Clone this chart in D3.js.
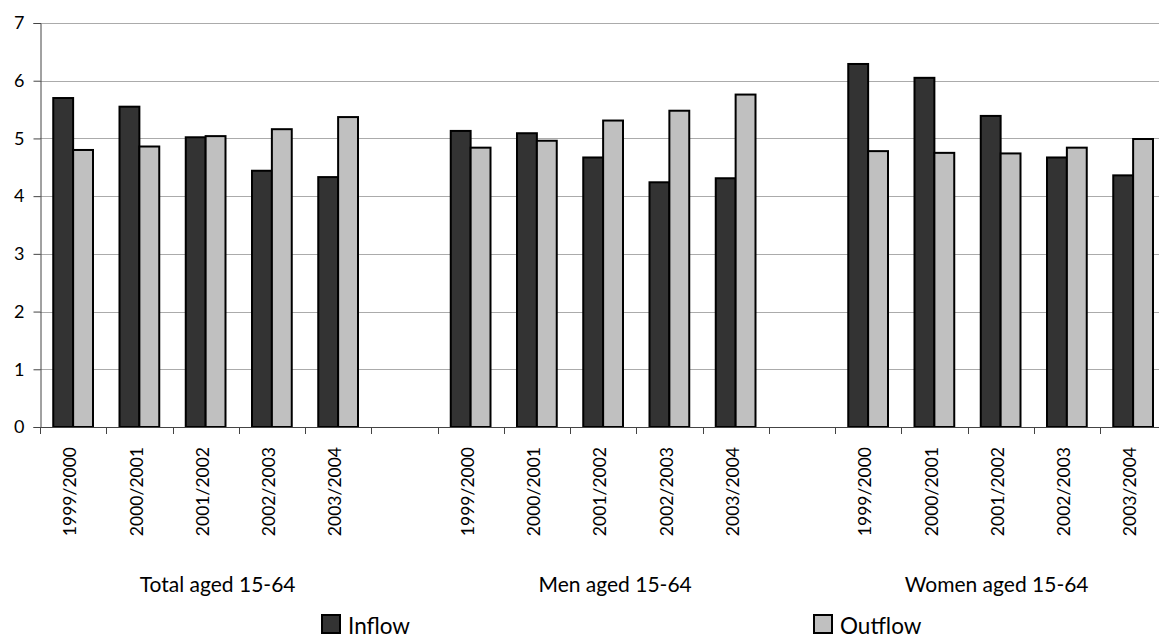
<!DOCTYPE html>
<html>
<head>
<meta charset="utf-8">
<script src="https://cdn.jsdelivr.net/npm/d3@7"></script>
<style>
  html, body { margin: 0; padding: 0; background: #fff; }
  svg { display: block; font-family: Lato, "DejaVu Sans", sans-serif; }
</style>
</head>
<body>
<svg id="chart" width="1159" height="640"></svg>
<script>
// ---- data ----
const groups = ["Total aged 15-64", "Men aged 15-64", "Women aged 15-64"];
const periods = ["1999/2000", "2000/2001", "2001/2002", "2002/2003", "2003/2004"];
const seriesNames = ["Inflow", "Outflow"];
const inflowTotal  = [5.70, 5.55, 5.02, 4.44, 4.33];
const outflowTotal = [4.80, 4.86, 5.04, 5.16, 5.37];
const inflowMen    = [5.13, 5.09, 4.67, 4.24, 4.31];
const outflowMen   = [4.84, 4.96, 5.31, 5.48, 5.76];
const inflowWomen  = [6.29, 6.05, 5.39, 4.67, 4.36];
const outflowWomen = [4.78, 4.75, 4.74, 4.84, 4.99];
const yTicks = [0, 1, 2, 3, 4, 5, 6, 7];

const inflows = [inflowTotal, inflowMen, inflowWomen];
const outflows = [outflowTotal, outflowMen, outflowWomen];

// slots: 5 periods per group, with an empty slot between groups
const slots = [];
groups.forEach((g, gi) => {
  periods.forEach((p, pi) => slots.push({ key: gi + "_" + pi, group: gi, period: p, pi: pi }));
  if (gi < groups.length - 1) slots.push({ key: "gap" + gi, group: gi, gap: true });
});
const rows = [];
slots.filter(s => !s.gap).forEach(s => {
  rows.push({ slot: s.key, series: "Inflow", value: inflows[s.group][s.pi] });
  rows.push({ slot: s.key, series: "Outflow", value: outflows[s.group][s.pi] });
});

// ---- layout ----
const svg = d3.select("#chart");
const plotLeft = 40, plotRight = 1166.25, plotTop = 23, plotBottom = 427;
const colors = { Inflow: "#333333", Outflow: "#c0c0c0" };

const x = d3.scaleBand().domain(slots.map(s => s.key)).range([plotLeft, plotRight]).padding(0);
const xs = d3.scaleBand().domain(seriesNames).range([x.bandwidth() * 0.2, x.bandwidth() * 0.8]).padding(0);
const y = d3.scaleLinear().domain([0, 7]).range([plotBottom, plotTop]);

// gridlines
svg.append("g").selectAll("line").data(yTicks.filter(t => t > 0)).join("line")
  .attr("x1", plotLeft).attr("x2", 1159)
  .attr("y1", d => Math.round(y(d)) + 0.5).attr("y2", d => Math.round(y(d)) + 0.5)
  .attr("stroke", "#ababab").attr("stroke-width", 1);

// bars
svg.append("g").selectAll("rect").data(rows).join("rect")
  .attr("x", d => x(d.slot) + xs(d.series))
  .attr("y", d => y(d.value))
  .attr("width", xs.bandwidth())
  .attr("height", d => y(0) - y(d.value))
  .attr("fill", d => colors[d.series])
  .attr("stroke", "#000").attr("stroke-width", 2);

// y axis
const yAxis = svg.append("g").attr("transform", `translate(${plotLeft + 0.5},0)`)
  .call(d3.axisLeft(y).tickValues(yTicks).tickFormat(d3.format("d")).tickSize(7).tickPadding(9));
yAxis.select(".domain").attr("stroke", "#444");
yAxis.selectAll(".tick line").attr("stroke", "#444");
yAxis.selectAll("text").attr("font-size", 18).attr("fill", "#000")
  .attr("font-family", "Lato, 'DejaVu Sans', sans-serif");

// x axis line and ticks at slot boundaries
svg.append("line").attr("x1", plotLeft).attr("x2", 1159)
  .attr("y1", plotBottom + 0.5).attr("y2", plotBottom + 0.5).attr("stroke", "#444");
const boundaries = slots.map(s => x(s.key)).concat([plotRight]);
svg.append("g").selectAll("line").data(boundaries).join("line")
  .attr("x1", d => Math.round(d) + 0.5).attr("x2", d => Math.round(d) + 0.5)
  .attr("y1", plotBottom).attr("y2", plotBottom + 7).attr("stroke", "#444");

// period labels (rotated)
svg.append("g").selectAll("text").data(slots.filter(s => !s.gap)).join("text")
  .attr("transform", d => `translate(${x(d.key) + x.bandwidth() / 2 - 3},447) rotate(-90)`)
  .attr("text-anchor", "end").attr("dy", "0.35em")
  .attr("font-size", 17.5).attr("fill", "#000")
  .text(d => d.period);

// group labels
const groupDx = [12, 12, -4];
svg.append("g").selectAll("text").data(groups).join("text")
  .attr("x", (d, i) => x(i + "_2") + x.bandwidth() / 2 + groupDx[i])
  .attr("y", 592)
  .attr("text-anchor", "middle").attr("font-size", 21).attr("fill", "#000")
  .text(d => d);

// legend
const legendX = [322, 814];
const leg = svg.append("g").selectAll("g").data(seriesNames).join("g")
  .attr("transform", (d, i) => `translate(${legendX[i]},615)`);
leg.append("rect").attr("width", 18).attr("height", 18)
  .attr("fill", d => colors[d]).attr("stroke", "#000").attr("stroke-width", 2);
leg.append("text").attr("x", 26).attr("y", 18.5)
  .attr("font-size", 22.5).attr("fill", "#000").text(d => d);
</script>
</body>
</html>
